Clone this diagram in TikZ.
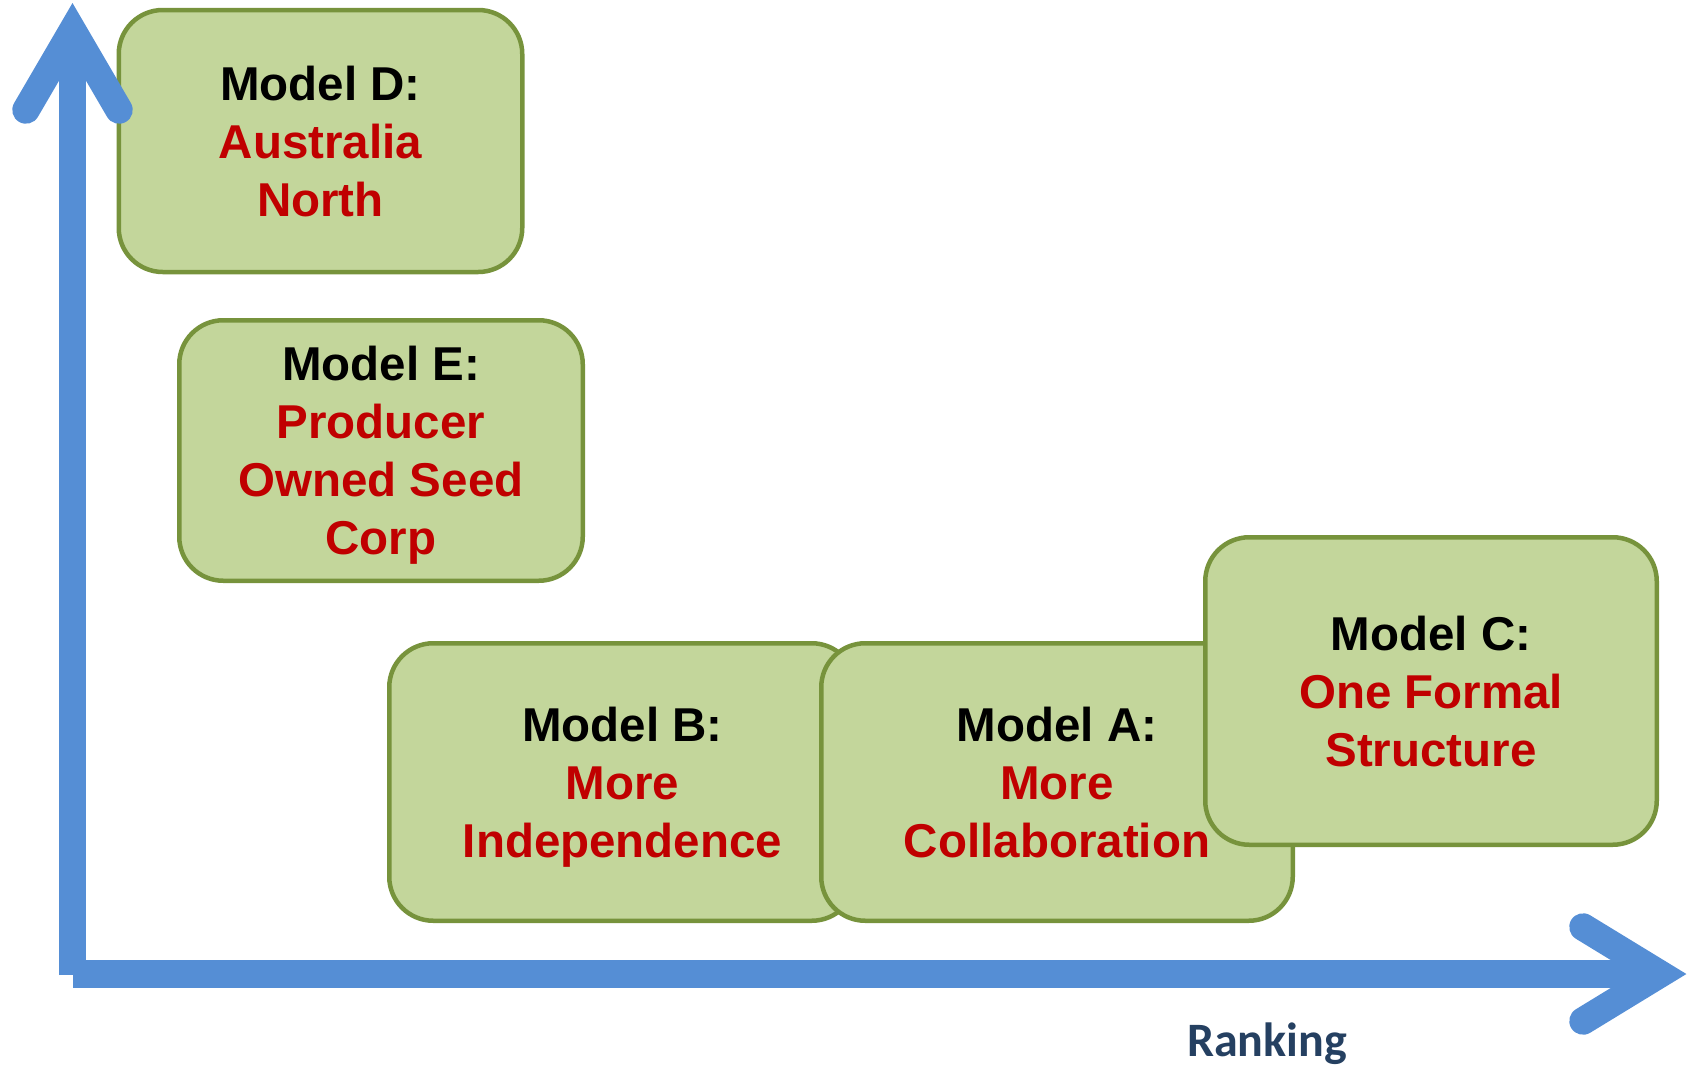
\documentclass[tikz,border=0pt]{standalone}
\usepackage{fontspec}
\setmainfont{Liberation Sans}
\newfontfamily\rankfont{Carlito}
\definecolor{axisblue}{HTML}{558ED5}
\definecolor{boxborder}{HTML}{77933C}
\definecolor{boxfill}{HTML}{C3D69B}
\definecolor{modelred}{HTML}{C00000}
\definecolor{ranknavy}{HTML}{254061}
\tikzset{
  modelbox/.style={draw=boxborder, fill=boxfill, line width=4.5pt, rounded corners=44pt,
    inner sep=0pt, align=center, text=black, text depth=0pt,
    font=\fontsize{47.5}{58}\selectfont\bfseries},
  axisline/.style={draw=axisblue, line width=27.5pt},
  axishead/.style={draw=axisblue, line width=27.5pt, line cap=round, line join=miter},
}
\newcommand{\red}[1]{\textcolor{modelred}{#1}}
\begin{document}
\begin{tikzpicture}[x=1pt, y=-1pt]
\useasboundingbox (0,0) rectangle (1692,1068);
% boxes
\node[modelbox, minimum width=403.5pt, minimum height=262pt] (D) at (320.5,141)
  {Model D:\\\red{Australia}\\\red{North}};
\node[modelbox, minimum width=403.5pt, minimum height=260.5pt] (E) at (381,450.5)
  {Model E:\\\red{Producer}\\\red{Owned Seed}\\\red{Corp}};
\node[modelbox, minimum width=466.5pt, minimum height=277.5pt] (B) at (622.5,782)
  {Model B:\\\red{More}\\\red{Independence}};
\node[modelbox, minimum width=471.5pt, minimum height=277.5pt] (A) at (1057,782)
  {Model A:\\\red{More}\\\red{Collaboration}};
\node[modelbox, minimum width=451.5pt, minimum height=307.5pt] (C) at (1431,691)
  {Model C:\\\red{One Formal}\\\red{Structure}};
% axes
\coordinate (ytop) at (72.5,50);
\coordinate (yend) at (72.5,975);
\coordinate (ytip) at (72.5,30.3);
\coordinate (yl) at (26,110);
\coordinate (yr) at (119,110);
\coordinate (xstart) at (72.5,974);
\coordinate (xend) at (1640,974);
\coordinate (xtip) at (1660,974);
\coordinate (xu) at (1583,927);
\coordinate (xd) at (1583,1021);
\path[axisline] (yend) -- (ytop);
\path[axishead] (yl) -- (ytip) -- (yr);
\path[axisline] (xstart) -- (xend);
\path[axishead] (xu) -- (xtip) -- (xd);
\node[anchor=base west, inner sep=0pt, text=ranknavy,
  font=\rankfont\fontsize{48}{58}\selectfont\bfseries] (rank) at (1187,1056) {Ranking};
\end{tikzpicture}
\end{document}
